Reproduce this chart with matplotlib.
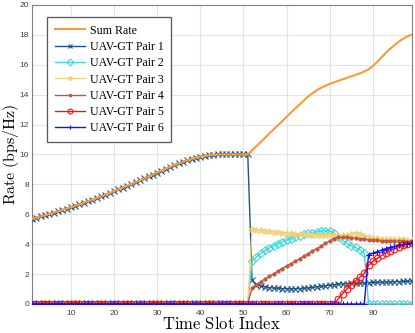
import numpy as np
import matplotlib
matplotlib.use("Agg")
import matplotlib.pyplot as plt

plt.rcParams["mathtext.fontset"] = "cm"

slots = np.arange(1, 90)

sum_rate = [5.70, 5.78, 5.86, 5.94, 6.02, 6.11, 6.20, 6.29, 6.38, 6.47,
            6.57, 6.67, 6.77, 6.87, 6.98, 7.09, 7.20, 7.31, 7.42, 7.54,
            7.66, 7.78, 7.90, 8.02, 8.14, 8.27, 8.40, 8.53, 8.66, 8.79,
            8.92, 9.05, 9.17, 9.29, 9.41, 9.52, 9.62, 9.71, 9.79, 9.86,
            9.91, 9.95, 9.98, 10.00, 10.00, 10.00, 10.00, 10.00, 10.00, 10.00,
            10.00, 10.28, 10.56, 10.84, 11.12, 11.40, 11.68, 11.96, 12.24, 12.52,
            12.80, 13.08, 13.35, 13.62, 13.88, 14.10, 14.30, 14.46, 14.60, 14.72,
            14.83, 14.93, 15.03, 15.13, 15.23, 15.33, 15.43, 15.55, 15.70, 15.92,
            16.20, 16.50, 16.80, 17.07, 17.32, 17.55, 17.74, 17.90, 18.02]

pair1 = sum_rate[:51] + [
    1.60, 1.30, 1.20, 1.15, 1.10, 1.07, 1.05, 1.03, 1.02,
    1.02, 1.02, 1.03, 1.05, 1.08, 1.11, 1.14, 1.18, 1.22, 1.26,
    1.29, 1.32, 1.35, 1.37, 1.39, 1.40, 1.41, 1.42, 1.43, 1.44,
    1.45, 1.46, 1.47, 1.48, 1.49, 1.50, 1.51, 1.52, 1.53]

pair2 = [0.0] * 51 + [
    2.90, 3.15, 3.38, 3.58, 3.75, 3.90, 4.04, 4.16, 4.28,
    4.38, 4.48, 4.57, 4.65, 4.72, 4.78, 4.83, 4.87, 4.90, 4.90,
    4.75, 4.50, 4.25, 4.05, 3.90, 3.78, 3.60, 3.40] + [0.0] * 11

pair3 = [0.0] * 51 + [
    5.00, 4.95, 4.92, 4.90, 4.85, 4.82, 4.80, 4.78, 4.75,
    4.73, 4.70, 4.68, 4.67, 4.65, 4.64, 4.63, 4.62, 4.62, 4.62,
    4.60, 4.58, 4.60, 4.63, 4.68, 4.72, 4.70, 4.58, 4.45, 4.42,
    4.40, 4.38, 4.36, 4.35, 4.34, 4.33, 4.32, 4.31, 4.30]

pair4 = [0.0] * 51 + [
    1.10, 1.30, 1.50, 1.68, 1.85, 2.02, 2.20, 2.37, 2.54,
    2.70, 2.86, 3.02, 3.20, 3.37, 3.54, 3.70, 3.88, 4.05, 4.22,
    4.38, 4.46, 4.48, 4.46, 4.43, 4.40, 4.37, 4.33, 4.30, 4.28,
    4.26, 4.24, 4.22, 4.21, 4.20, 4.19, 4.18, 4.17, 4.16]

pair5 = [0.0] * 71 + [
    0.35, 0.70, 1.00, 1.30, 1.55, 1.80, 2.05, 2.60, 2.85,
    3.05, 3.25, 3.42, 3.57, 3.70, 3.82, 3.92, 4.00, 4.07]

pair6 = [0.0] * 78 + [
    3.30, 3.40, 3.50, 3.60, 3.70, 3.78, 3.85, 3.92, 3.98, 4.03, 4.07]

labels = ["UAV-GT Pair 1", "UAV-GT Pair 2", "UAV-GT Pair 3",
          "UAV-GT Pair 4", "UAV-GT Pair 5", "UAV-GT Pair 6"]
colors = ["#1f5587", "#45d6d6", "#f0d27a", "#c0573f", "#ff1010", "#1010ff"]
markers = ["x", "D", "*", ".", "o", "+"]
msizes = [4, 3.6, 4.5, 4.5, 4.8, 5]

fig = plt.figure(figsize=(4.15, 3.33), dpi=100)
ax = fig.add_axes([0.0771, 0.0871, 0.915, 0.898])

# pairs first, sum rate above them
for i, y in enumerate([pair1, pair2, pair3, pair4, pair5, pair6]):
    filled = markers[i] in ("*", ".")
    ax.plot(slots, y, color=colors[i], marker=markers[i], markersize=msizes[i],
            markerfacecolor=colors[i] if filled else "none",
            markeredgewidth=0.8, linewidth=1.0, label=labels[i], zorder=3 + i)
ax.plot(slots, sum_rate, color="#ff9933", linewidth=1.5, label="Sum Rate", zorder=10)

ax.set_xlim(1, 89)
ax.set_ylim(0, 20)
ax.set_xticks(range(10, 90, 10))
ax.set_yticks(range(0, 21, 2))
ax.grid(True, color="#e4e4e4", linewidth=0.8)
ax.set_axisbelow(True)
for s in ax.spines.values():
    s.set_color("#808080")
    s.set_linewidth(0.8)
ax.tick_params(direction="in", length=0, labelsize=6, labelcolor="#404040")
ax.tick_params(axis="x", pad=4)
ax.tick_params(axis="y", pad=2)
for t in ax.get_xticklabels() + ax.get_yticklabels():
    t.set_fontfamily("Liberation Sans")

ax.set_xlabel(r"$\mathrm{Time\ Slot\ Index}$", fontsize=12)
ax.set_ylabel(r"$\mathrm{Rate\ (bps/Hz)}$", fontsize=11.5)
ax.xaxis.set_label_coords(0.5, -0.038)
ax.yaxis.set_label_coords(-0.030, 0.5)

h, l = ax.get_legend_handles_labels()
order = [6, 0, 1, 2, 3, 4, 5]
leg = ax.legend([h[i] for i in order], [l[i] for i in order],
                loc="upper left", bbox_to_anchor=(0.0403, 0.959),
                borderaxespad=0,
                prop={"family": "Liberation Serif", "size": 8.6},
                numpoints=1, handlelength=2.5, handletextpad=0.42,
                labelspacing=0.36, borderpad=0.62, fancybox=False,
                framealpha=1, edgecolor="#555555")
leg.get_frame().set_linewidth(0.9)
for lh in leg.get_lines():
    lh.set_markersize(3.5)

fig.savefig("out.png", dpi=100)
